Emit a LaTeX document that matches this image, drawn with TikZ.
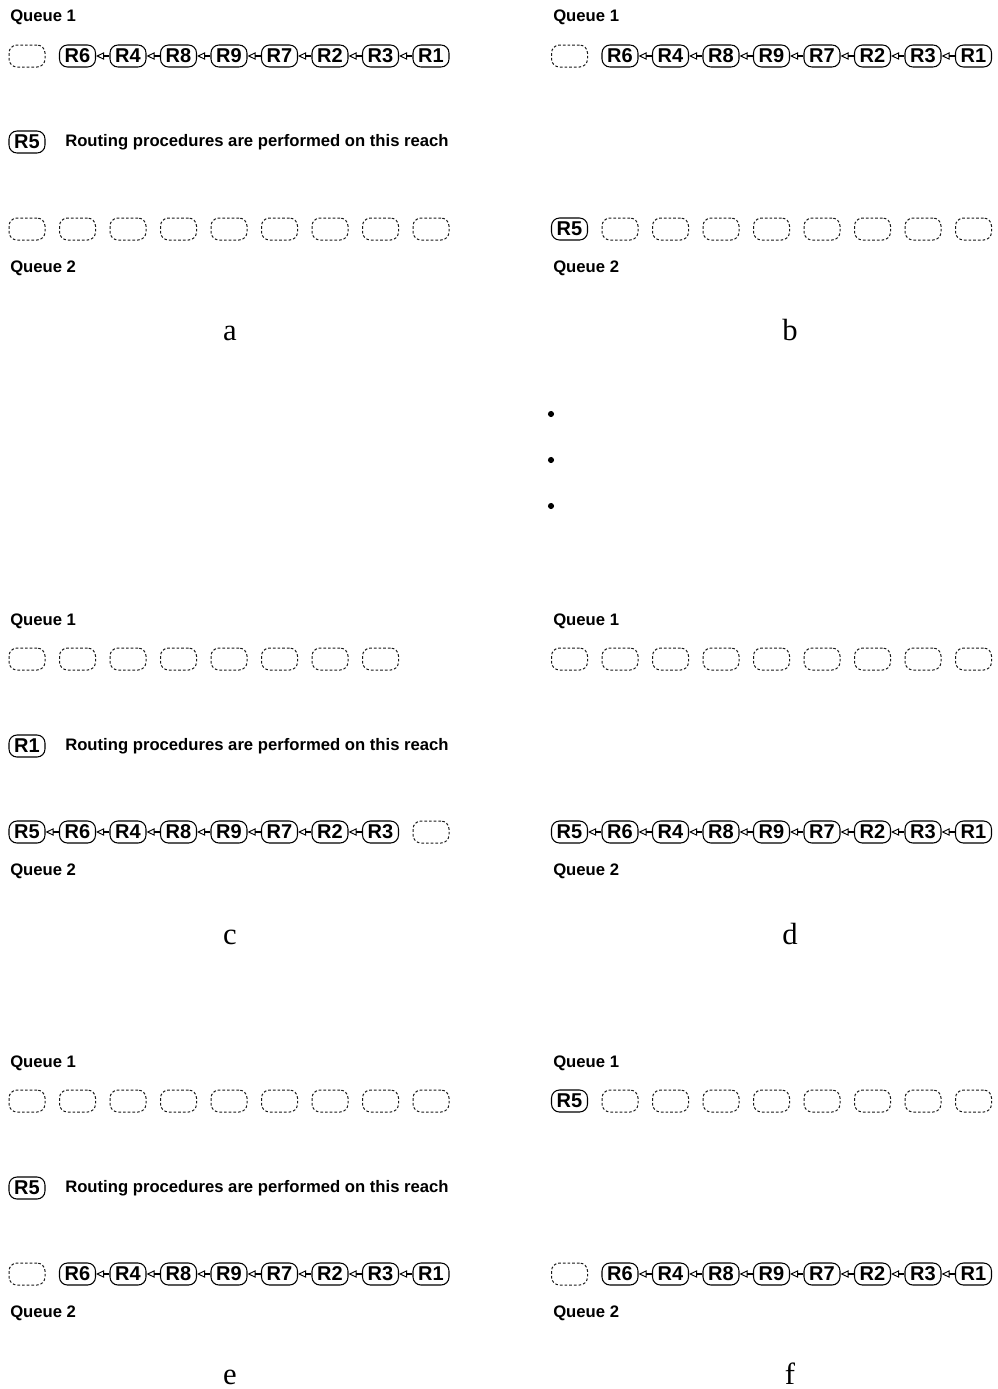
\documentclass[tikz,border=0pt]{standalone}
\usepackage{fontspec}
\setmainfont{Liberation Serif}
\newfontfamily\qfont{Liberation Sans}
\usetikzlibrary{arrows.meta}

% one row of a queue: name, x of first slot, y, list of style/label
\newcommand{\qrow}[4]{%
  \foreach \st/\lab [count=\i from 0] in {#4}
    \node[\st] (#1-\i) at ({#2+50.5*\i},#3) {\lab};}
% links between occupied slots: name, first, last
\newcommand{\qlinks}[3]{%
  \foreach \j [evaluate=\j as \k using int(\j-1)] in {#2,...,#3}
    \draw[link] (#1-\j) -- (#1-\k);}

\begin{document}
\begin{tikzpicture}[x=0.75pt,y=-0.75pt,
  reach/.style={draw,line width=0.8pt,rounded corners=6pt,
    minimum width=27pt,minimum height=16.5pt,inner sep=0pt,
    font=\qfont\bfseries\fontsize{15}{15}\selectfont},
  vacant/.style={reach,draw=black!90,line width=0.75pt,
    dash pattern=on 2pt off 1.5pt},
  link/.style={-{Triangle[open,length=6pt,width=5.5pt,line width=0.7pt]},line width=0.8pt},
  qlabel/.style={anchor=west,inner sep=0pt,
    font=\qfont\bfseries\fontsize{12.5}{12.5}\selectfont},
  panel/.style={anchor=base,inner sep=0pt,font=\fontsize{23}{23}\selectfont}
]
\useasboundingbox (0,0) rectangle (997,1389);

% a
\node[qlabel] (qa1) at (10,17) {Queue 1};
\qrow{a1}{27}{56}{vacant/{},reach/R6,reach/R4,reach/R8,reach/R9,reach/R7,reach/R2,reach/R3,reach/R1}
\qlinks{a1}{2}{8}
\node[reach] (ra) at (27,142) {R5};
\node[qlabel] (ta) at (65,142) {Routing procedures are performed on this reach};
\qrow{a2}{27}{229}{vacant/{},vacant/{},vacant/{},vacant/{},vacant/{},vacant/{},vacant/{},vacant/{},vacant/{}}
\node[qlabel] (qa2) at (10,268) {Queue 2};
\node[panel] (la) at (230,340) {a};

% b
\node[qlabel] (qb1) at (553,17) {Queue 1};
\qrow{b1}{569.5}{56}{vacant/{},reach/R6,reach/R4,reach/R8,reach/R9,reach/R7,reach/R2,reach/R3,reach/R1}
\qlinks{b1}{2}{8}
\qrow{b2}{569.5}{229}{reach/R5,vacant/{},vacant/{},vacant/{},vacant/{},vacant/{},vacant/{},vacant/{},vacant/{}}
\node[qlabel] (qb2) at (553,268) {Queue 2};
\node[panel] (lb) at (790,340) {b};

% dots
\foreach \y in {414,460,506}
  \fill (551,\y) circle (2.3pt);

% c
\node[qlabel] (qc1) at (10,621) {Queue 1};
\qrow{c1}{27}{659}{vacant/{},vacant/{},vacant/{},vacant/{},vacant/{},vacant/{},vacant/{},vacant/{}}
\node[reach] (rc) at (27,746) {R1};
\node[qlabel] (tc) at (65,746) {Routing procedures are performed on this reach};
\qrow{c2}{27}{832}{reach/R5,reach/R6,reach/R4,reach/R8,reach/R9,reach/R7,reach/R2,reach/R3,vacant/{}}
\qlinks{c2}{1}{7}
\node[qlabel] (qc2) at (10,871) {Queue 2};
\node[panel] (lc) at (230,944) {c};

% d
\node[qlabel] (qd1) at (553,621) {Queue 1};
\qrow{d1}{569.5}{659}{vacant/{},vacant/{},vacant/{},vacant/{},vacant/{},vacant/{},vacant/{},vacant/{},vacant/{}}
\qrow{d2}{569.5}{832}{reach/R5,reach/R6,reach/R4,reach/R8,reach/R9,reach/R7,reach/R2,reach/R3,reach/R1}
\qlinks{d2}{1}{8}
\node[qlabel] (qd2) at (553,871) {Queue 2};
\node[panel] (ld) at (790,944) {d};

% e
\node[qlabel] (qe1) at (10,1063) {Queue 1};
\qrow{e1}{27}{1101}{vacant/{},vacant/{},vacant/{},vacant/{},vacant/{},vacant/{},vacant/{},vacant/{},vacant/{}}
\node[reach] (re) at (27,1188) {R5};
\node[qlabel] (te) at (65,1188) {Routing procedures are performed on this reach};
\qrow{e2}{27}{1274}{vacant/{},reach/R6,reach/R4,reach/R8,reach/R9,reach/R7,reach/R2,reach/R3,reach/R1}
\qlinks{e2}{2}{8}
\node[qlabel] (qe2) at (10,1313) {Queue 2};
\node[panel] (le) at (230,1384) {e};

% f
\node[qlabel] (qf1) at (553,1063) {Queue 1};
\qrow{f1}{569.5}{1101}{reach/R5,vacant/{},vacant/{},vacant/{},vacant/{},vacant/{},vacant/{},vacant/{},vacant/{}}
\qrow{f2}{569.5}{1274}{vacant/{},reach/R6,reach/R4,reach/R8,reach/R9,reach/R7,reach/R2,reach/R3,reach/R1}
\qlinks{f2}{2}{8}
\node[qlabel] (qf2) at (553,1313) {Queue 2};
\node[panel] (lf) at (790,1384) {f};
\end{tikzpicture}
\end{document}
